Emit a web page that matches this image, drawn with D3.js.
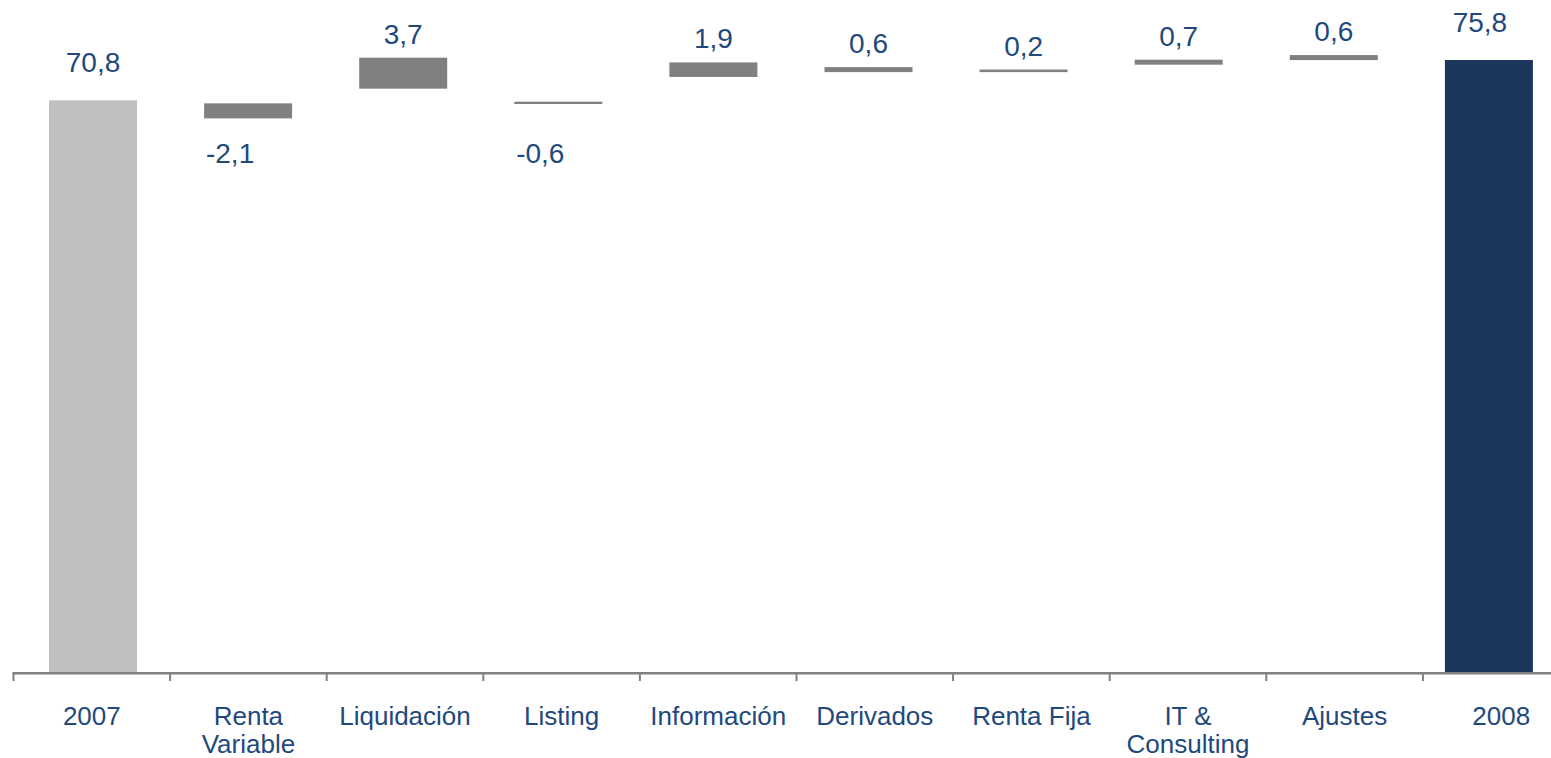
<!DOCTYPE html>
<html>
<head>
<meta charset="utf-8">
<script src="https://cdn.jsdelivr.net/npm/d3@7"></script>
<style>
  html, body { margin: 0; padding: 0; background: #ffffff; }
  svg { display: block; font-family: "Liberation Sans", Arial, sans-serif; }
</style>
</head>
<body>
<svg id="chart" width="1551" height="758"></svg>
<script>
// ---- data ----
const categories = ["2007", "Renta Variable", "Liquidación", "Listing", "Información",
                    "Derivados", "Renta Fija", "IT & Consulting", "Ajustes", "2008"];
const categoryLines = [["2007"], ["Renta", "Variable"], ["Liquidación"], ["Listing"], ["Información"],
                       ["Derivados"], ["Renta Fija"], ["IT &", "Consulting"], ["Ajustes"], ["2008"]];
const values = [70.8, -2.1, 3.7, -0.6, 1.9, 0.6, 0.2, 0.7, 0.6, 75.8];
// bar extents as drawn in the reference (data units)
const barFrom = [0, 70.43, 72.25, 70.64, 73.70, 74.30, 74.30, 75.22, 75.79, 0];
const barTo   = [70.8, 68.57, 76.09, 70.35, 75.50, 74.92, 74.62, 75.84, 76.41, 75.8];
const barKind = ["start", "delta", "delta", "delta", "delta", "delta", "delta", "delta", "delta", "end"];

// ---- layout ----
const W = 1551, H = 758;
const baseY = 672;
const svg = d3.select("#chart");

// category slots (axis ticks / category labels)
const x = d3.scaleBand().domain(categories).range([13.5, 13.5 + 156.6 * 10]).padding(0);
// bar slots (bars sit on a slightly tighter pitch in the reference)
const xb = d3.scaleBand().domain(categories).range([15.45, 15.45 + 155.1 * 10]).padding(0);
const y = d3.scaleLinear().domain([0, 75.8]).range([baseY, 60]);
const barW = 88;

const colors = { start: "#BFBFBF", delta: "#808080", end: "#1B375C" };
const textColor = "#1F497D";
const fmt = d3.formatLocale({ decimal: ",", thousands: ".", grouping: [3], currency: ["", "€"], minus: "-" }).format(".1f");

const data = categories.map((c, i) => ({
  cat: c, lines: categoryLines[i], value: values[i],
  lo: Math.min(barFrom[i], barTo[i]), hi: Math.max(barFrom[i], barTo[i]), kind: barKind[i]
}));
const bc = d => xb(d.cat) + xb.bandwidth() / 2;

// axis line and ticks
const axisColor = "#808080";
svg.append("line")
  .attr("x1", x.range()[0] - 1).attr("x2", W)
  .attr("y1", baseY + 1.3).attr("y2", baseY + 1.3)
  .attr("stroke", axisColor).attr("stroke-width", 2.6);
svg.append("g").selectAll("line")
  .data(categories.map(c => x(c)).concat([x.range()[1]]))
  .join("line")
  .attr("x1", d => d).attr("x2", d => d)
  .attr("y1", baseY + 1).attr("y2", baseY + 9)
  .attr("stroke", axisColor).attr("stroke-width", 2);

// bars
svg.append("g").selectAll("rect")
  .data(data)
  .join("rect")
  .attr("x", d => bc(d) - barW / 2)
  .attr("width", barW)
  .attr("y", d => y(d.hi))
  .attr("height", d => y(d.lo) - y(d.hi))
  .attr("fill", d => colors[d.kind]);

// value labels
const negRow = d3.max(data.filter(d => d.value < 0), d => y(d.lo)) + 45;
svg.append("g").selectAll("text")
  .data(data)
  .join("text")
  .attr("x", d => bc(d) - (d.kind === "end" ? 9 : 0) - (d.value < 0 ? 18 : 0))
  .attr("y", d => d.value < 0 ? negRow : y(d.hi) - (d.kind === "delta" ? 14 : 28))
  .attr("text-anchor", "middle")
  .attr("font-size", 28)
  .attr("fill", textColor)
  .text(d => fmt(d.value));

// category labels
const catG = svg.append("g").selectAll("text")
  .data(data)
  .join("text")
  .attr("x", d => x(d.cat) + x.bandwidth() / 2)
  .attr("y", 725)
  .attr("text-anchor", "middle")
  .attr("font-size", 26)
  .attr("fill", textColor);
catG.selectAll("tspan")
  .data(d => d.lines.map(l => ({ l, cx: x(d.cat) + x.bandwidth() / 2 })))
  .join("tspan")
  .attr("x", d => d.cx)
  .attr("dy", (d, i) => i === 0 ? 0 : 28)
  .text(d => d.l);
</script>
</body>
</html>
